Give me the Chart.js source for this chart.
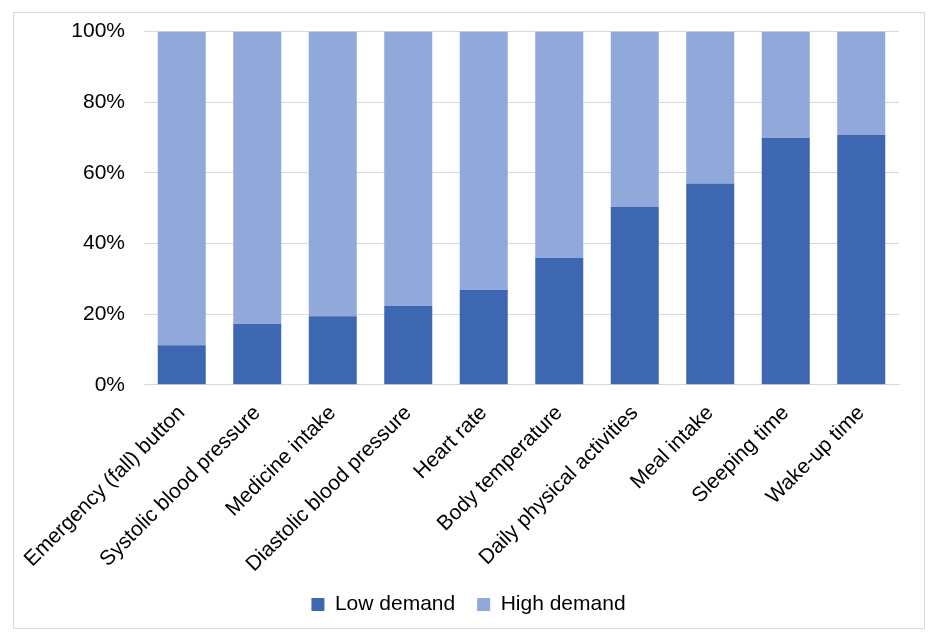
<!DOCTYPE html>
<html>
<head>
<meta charset="utf-8">
<script src="https://cdn.jsdelivr.net/npm/chart.js@4/dist/chart.umd.min.js"></script>
<style>
  body { margin: 0; background: #fff; }
  #frame { position: absolute; left: 13px; top: 12px; width: 910px; height: 615px; border: 1px solid #d9d9d9; }
  #wrap { position: absolute; left: 0; top: 0; width: 936px; height: 641px; }
</style>
</head>
<body>
<div id="frame"></div>
<div id="wrap"><canvas id="chart" width="936" height="641"></canvas></div>
<script>
// Categories and values (percent of respondents)
const categories = [
  "Emergency (fall) button",
  "Systolic blood pressure",
  "Medicine intake",
  "Diastolic blood pressure",
  "Heart rate",
  "Body temperature",
  "Daily physical activities",
  "Meal intake",
  "Sleeping time",
  "Wake-up time"
];
const lowDemand = [11.2, 17.2, 19.4, 22.3, 26.8, 35.9, 50.3, 57.0, 69.9, 70.7];
const highDemand = [88.8, 82.8, 80.6, 77.7, 73.2, 64.1, 49.7, 43.0, 30.1, 29.3];
const yTicks = [0, 20, 40, 60, 80, 100];

const font = { family: "Arial, 'Liberation Sans', sans-serif", size: 21 };

new Chart(document.getElementById("chart"), {
  type: "bar",
  data: {
    labels: categories,
    datasets: [
      { label: "Low demand", data: lowDemand, backgroundColor: "#3E67B2" },
      { label: "High demand", data: highDemand, backgroundColor: "#91A8DB" }
    ]
  },
  options: {
    responsive: false,
    animation: false,
    layout: { padding: { left: 38, right: 37, top: 25, bottom: 16 } },
    datasets: { bar: { categoryPercentage: 1, barPercentage: 0.636 } },
    plugins: {
      tooltip: { enabled: false },
      legend: {
        position: "bottom",
        labels: { color: "#000", font: font, boxWidth: 13, boxHeight: 13, padding: 22 }
      }
    },
    scales: {
      x: {
        stacked: true,
        afterFit: (s) => { s.height -= 21; },
        grid: { display: false, drawTicks: false },
        border: { color: "#d9d9d9" },
        ticks: { color: "#000", font: font, minRotation: 45, maxRotation: 45, autoSkip: false, padding: 16 }
      },
      y: {
        stacked: true,
        min: 0,
        max: 100,
        afterBuildTicks: (s) => { s.ticks = yTicks.map(v => ({ value: v })); },
        afterFit: (s) => { s.width = 106; },
        grid: { color: "#d9d9d9", drawTicks: false },
        border: { display: false },
        ticks: { color: "#000", font: font, padding: 19, callback: v => v + "%" }
      }
    }
  }
});
</script>
</body>
</html>
